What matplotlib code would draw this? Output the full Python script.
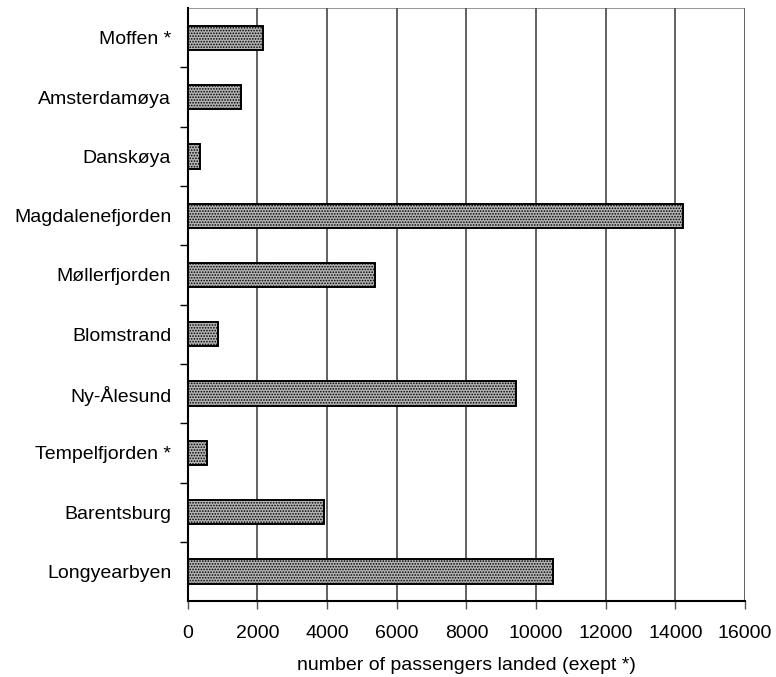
import matplotlib
matplotlib.use("Agg")
import matplotlib.pyplot as plt

# ----- data (top to bottom as in the chart) -----
places = ["Moffen *", "Amsterdamøya", "Danskøya", "Magdalenefjorden", "Møllerfjorden",
          "Blomstrand", "Ny-Ålesund", "Tempelfjorden *", "Barentsburg", "Longyearbyen"]
passengers = [2150, 1520, 340, 14220, 5370, 860, 9420, 540, 3910, 10490]
xticks = [0, 2000, 4000, 6000, 8000, 10000, 12000, 14000, 16000]

plt.rcParams['font.family'] = ['Liberation Sans', 'DejaVu Sans']
plt.rcParams['hatch.linewidth'] = 0.8
plt.rcParams['hatch.color'] = '#ffffff'

fig = plt.figure(figsize=(7.76, 6.77), dpi=100)
ax = fig.add_axes([0.242, 0.112, 0.718, 0.876])

ypos = list(range(len(places)))[::-1]
ax.barh(ypos, passengers, height=0.41, color='#b4b4b4', edgecolor='black',
        linewidth=1.2, hatch='......', zorder=3)
# redraw the outline in black (hatch colour also tints the edge)
ax.barh(ypos, passengers, height=0.41, fill=False, edgecolor='black',
        linewidth=1.2, zorder=4)

ax.set_xlim(0, 16000)
ax.set_ylim(-0.5, len(places) - 0.5)
ax.set_xticks(xticks)
ax.set_xticklabels([str(t) for t in xticks], fontsize=14)
ax.set_yticks(ypos)
ax.set_yticklabels(places, fontsize=14)
ax.set_yticks([y + 0.5 for y in range(len(places) - 1)], minor=True)
ax.tick_params(axis='y', which='major', length=0, pad=12)
ax.tick_params(axis='y', which='minor', length=6, direction='out', width=1)
ax.tick_params(axis='x', length=6, direction='out', width=1, pad=11, color='#555555')

ax.grid(axis='x', color='#555555', linewidth=1.3, zorder=0)
for s in ['top', 'right']:
    ax.spines[s].set_visible(False)
ax.spines['left'].set_linewidth(1.5)
ax.spines['bottom'].set_linewidth(1.5)
ax.axhline(len(places) - 0.5, color='#999999', linewidth=1.5, zorder=1)

ax.set_xlabel("number of passengers landed (exept *)", fontsize=14, labelpad=11)

fig.savefig("out.png", dpi=100)
